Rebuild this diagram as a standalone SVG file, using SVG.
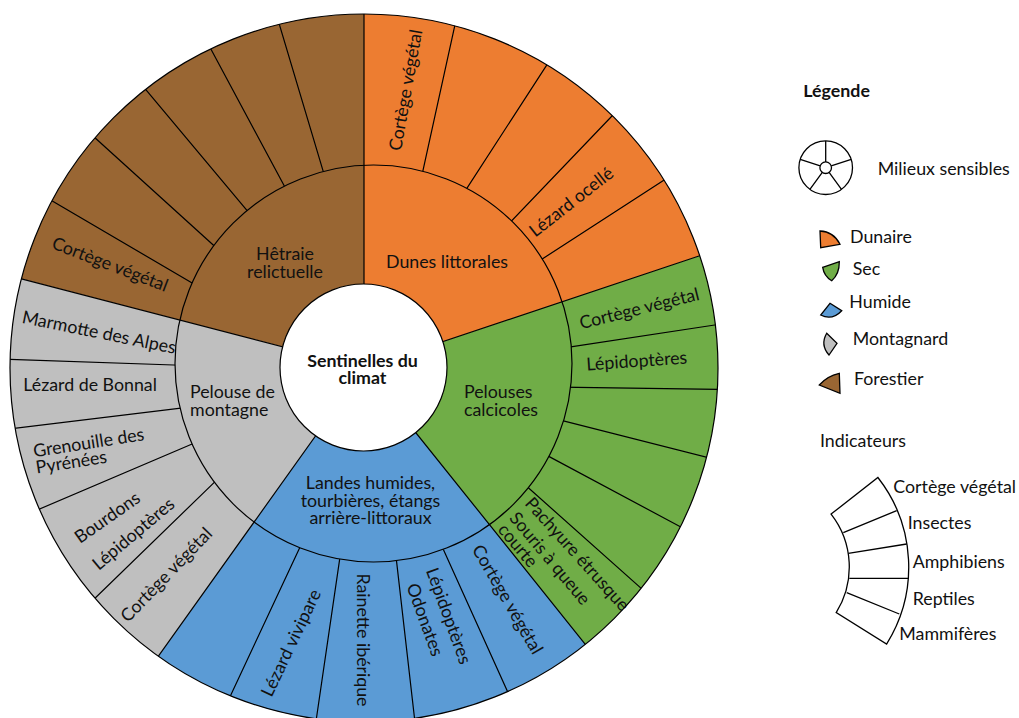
<svg xmlns="http://www.w3.org/2000/svg" width="1019" height="718" viewBox="0 0 1019 718">
<defs>
<style>
.t{font-family:Lato,"Liberation Sans",sans-serif;font-size:17.8px;fill:#111}
.m{text-anchor:middle}
.e{text-anchor:end}
.b{font-weight:bold}
.ln{stroke:#000;stroke-width:1.2;fill:none}
.ic{stroke:#000;stroke-width:1.3}
</style>
<clipPath id="ring"><path clip-rule="evenodd" d="M10,368a354,354 0 1,0 708,0a354,354 0 1,0 -708,0ZM175,363.5a198.5,198.5 0 1,0 397,0a198.5,198.5 0 1,0 -397,0Z"/></clipPath>
</defs>
<rect width="1019" height="718" fill="#fff"/>

<g id="forestier">
<path fill="#996633" d="M364,368L21.4,278.8A354,354 0 0 1 364,14Z"/>
<text class="t m" x="285" y="260">Hêtraie</text>
<text class="t m" x="285" y="278">relictuelle</text>
<text class="t m" transform="translate(108,270) rotate(21)">Cortège végétal</text>
</g>

<g id="dunaire">
<path fill="#ED7D31" d="M364,368L364,14A354,354 0 0 1 699.7,255.7Z"/>
<text class="t m" x="447" y="268">Dunes littorales</text>
<text class="t m" transform="translate(411.7,91) rotate(-80)">Cortège végétal</text>
<text class="t m" transform="translate(575,206.7) rotate(-38)">Lézard ocellé</text>
</g>

<g id="sec">
<path fill="#70AD47" d="M364,368L699.7,255.7A354,354 0 0 1 585.3,644.3Z"/>
<text class="t" x="464" y="398">Pelouses</text>
<text class="t" x="464" y="416">calcicoles</text>
<text class="t m" transform="translate(640.7,314.5) rotate(-14)">Cortège végétal</text>
<text class="t m" transform="translate(637.2,367) rotate(-4)">Lépidoptères</text>
<text class="t" transform="translate(524,504) rotate(48)">Pachyure étrusque</text>
<text class="t" transform="translate(508.5,518.5) rotate(50)">Souris à queue</text>
<text class="t" transform="translate(497,530) rotate(50)">courte</text>
</g>

<g id="humide">
<path fill="#5B9BD5" d="M364,368L585.3,644.3A354,354 0 0 1 158.4,656.2Z"/>
<text class="t m" x="370.5" y="489">Landes humides,</text>
<text class="t m" x="370.5" y="506.5">tourbières, étangs</text>
<text class="t m" x="370.5" y="523.5">arrière-littoraux</text>
<text class="t m" transform="translate(296.5,645.5) rotate(-64.5)">Lézard vivipare</text>
<text class="t m" transform="translate(356.7,640) rotate(90)">Rainette ibérique</text>
<text class="t m" transform="translate(443,618) rotate(70)">Lépidoptères</text>
<text class="t m" transform="translate(419.2,621.7) rotate(70)">Odonates</text>
<text class="t m" transform="translate(502.3,602.5) rotate(60)">Cortège végétal</text>
</g>

<g id="montagnard">
<path fill="#BFBFBF" d="M364,368L158.4,656.2A354,354 0 0 1 21.4,278.8Z"/>
<text class="t" x="190" y="398">Pelouse de</text>
<text class="t" x="190" y="416">montagne</text>
<text class="t m" transform="translate(97.8,338.3) rotate(11.5)">Marmotte des Alpes</text>
<text class="t" x="23.3" y="391">Lézard de Bonnal</text>
<text class="t" transform="translate(34.3,457.3) rotate(-8.8)">Grenouille des<tspan x="0" dy="16.5">Pyrénées</tspan></text>
<text class="t m" transform="translate(110.8,522.5) rotate(-35)">Bourdons</text>
<text class="t m" transform="translate(137.3,538.5) rotate(-40)">Lépidoptères</text>
<text class="t m" transform="translate(170.7,579) rotate(-46)">Cortège végétal</text>
</g>

<g id="connectors">
<circle class="ln" cx="364" cy="368" r="354"/>
<path class="ln" d="M364,368L21.4,278.8M364,368L364,14M364,368L699.7,255.7M364,368L585.3,644.3M364,368L158.4,656.2"/>
<circle class="ln" cx="373.5" cy="363.5" r="198.5"/>
<g clip-path="url(#ring)">
<path class="ln" d="M202.8,289.2L39.5,193.6M222.6,253.5L85,128.7M255.3,220.3L136.6,78.7M290.1,196.7L205.1,38.3M326.8,183.3L275.7,12.2
M420.2,183.2L457.5,13.3M461,197.4L553.5,54.6M503.8,229L620.6,107M533.7,264.5L674.6,173.3
M560.9,348.4L729.3,322.8M560,387.1L731.9,389.5M555.5,418.9L720.7,460.9M542.2,452.9L691.7,532.8M521.3,481.5L650.2,596.4
M303.8,539L223.2,711.3M341.1,549.3L314.4,732.2M395.3,550.4L416.1,732.1M439.3,540.6L513.6,704.9
M188.2,365.5L-6.5,358.7M193.2,406.7L-1.5,430.3M202.1,439.8L23.4,515.9M222.8,474.1L82.6,610.2"/>
</g>
</g>

<g id="centre">
<circle cx="363.5" cy="367.5" r="83.5" fill="#fff" stroke="#000" stroke-width="1.2"/>
<text class="t m b" x="362.5" y="367">Sentinelles du</text>
<text class="t m b" x="362.5" y="383.5">climat</text>
</g>

<g id="legende">
<text class="t b" x="803.3" y="97.3">Légende</text>
<g id="legende-milieux">
<circle class="ic" cx="825.7" cy="167.7" r="26.8" fill="#fff"/>
<circle class="ic" cx="825.7" cy="167.7" r="5.8" fill="#fff"/>
<path class="ic" fill="none" d="M825.7,161.9L825.7,140.9M831.2,165.9L851.2,159.4M829.1,172.4L841.5,189.4M822.3,172.4L809.9,189.4M820.2,165.9L800.2,159.4"/>
<text class="t" x="877.7" y="175">Milieux sensibles</text>
</g>
<g id="legende-dunaire">
<path class="ic" fill="#ED7D31" d="M820,231Q833.5,231.5 840,244.3L820.7,247.7Z"/>
<text class="t" x="850" y="242.7">Dunaire</text>
</g>
<g id="legende-sec">
<path class="ic" fill="#70AD47" d="M822.7,267.3L839.3,261.7Q839.5,274 831.7,280.7Q824,276 822.7,267.3Z"/>
<text class="t" x="852.7" y="275">Sec</text>
</g>
<g id="legende-humide">
<path class="ic" fill="#5B9BD5" d="M830,303.3L841.7,310.7Q832,321 820.7,315Z"/>
<text class="t" x="849.3" y="308.3">Humide</text>
</g>
<g id="legende-montagnard">
<path class="ic" fill="#BFBFBF" d="M826.7,333.3L837,343.3L829,355Q820,345 826.7,333.3Z"/>
<text class="t" x="852.7" y="345">Montagnard</text>
</g>
<g id="legende-forestier">
<path class="ic" fill="#996633" d="M819.3,385Q827,376 839.3,373.3L840,393.3Z"/>
<text class="t" x="854" y="385">Forestier</text>
</g>
<g id="legende-indicateurs">
<text class="t" x="820" y="447.3">Indicateurs</text>
<path class="ic" fill="#fff" d="M831.1,514.1L877.9,477.5A145.4,145.4 0 0 1 886.6,644.1L836.2,612.6A86,86 0 0 0 831.1,514.1Z"/>
<path class="ic" fill="none" d="M843.3,532.7L896.7,510.7M848.3,553.3L906.7,544M849.3,578.3L908.3,578.3M846.7,592.7L899.3,614"/>
<text class="t" x="893.3" y="492.5">Cortège végétal</text>
<text class="t" x="907.7" y="529.3">Insectes</text>
<text class="t" x="912.7" y="567.7">Amphibiens</text>
<text class="t" x="912.7" y="605">Reptiles</text>
<text class="t" x="899.3" y="640">Mammifères</text>
</g>
</g>
</svg>
